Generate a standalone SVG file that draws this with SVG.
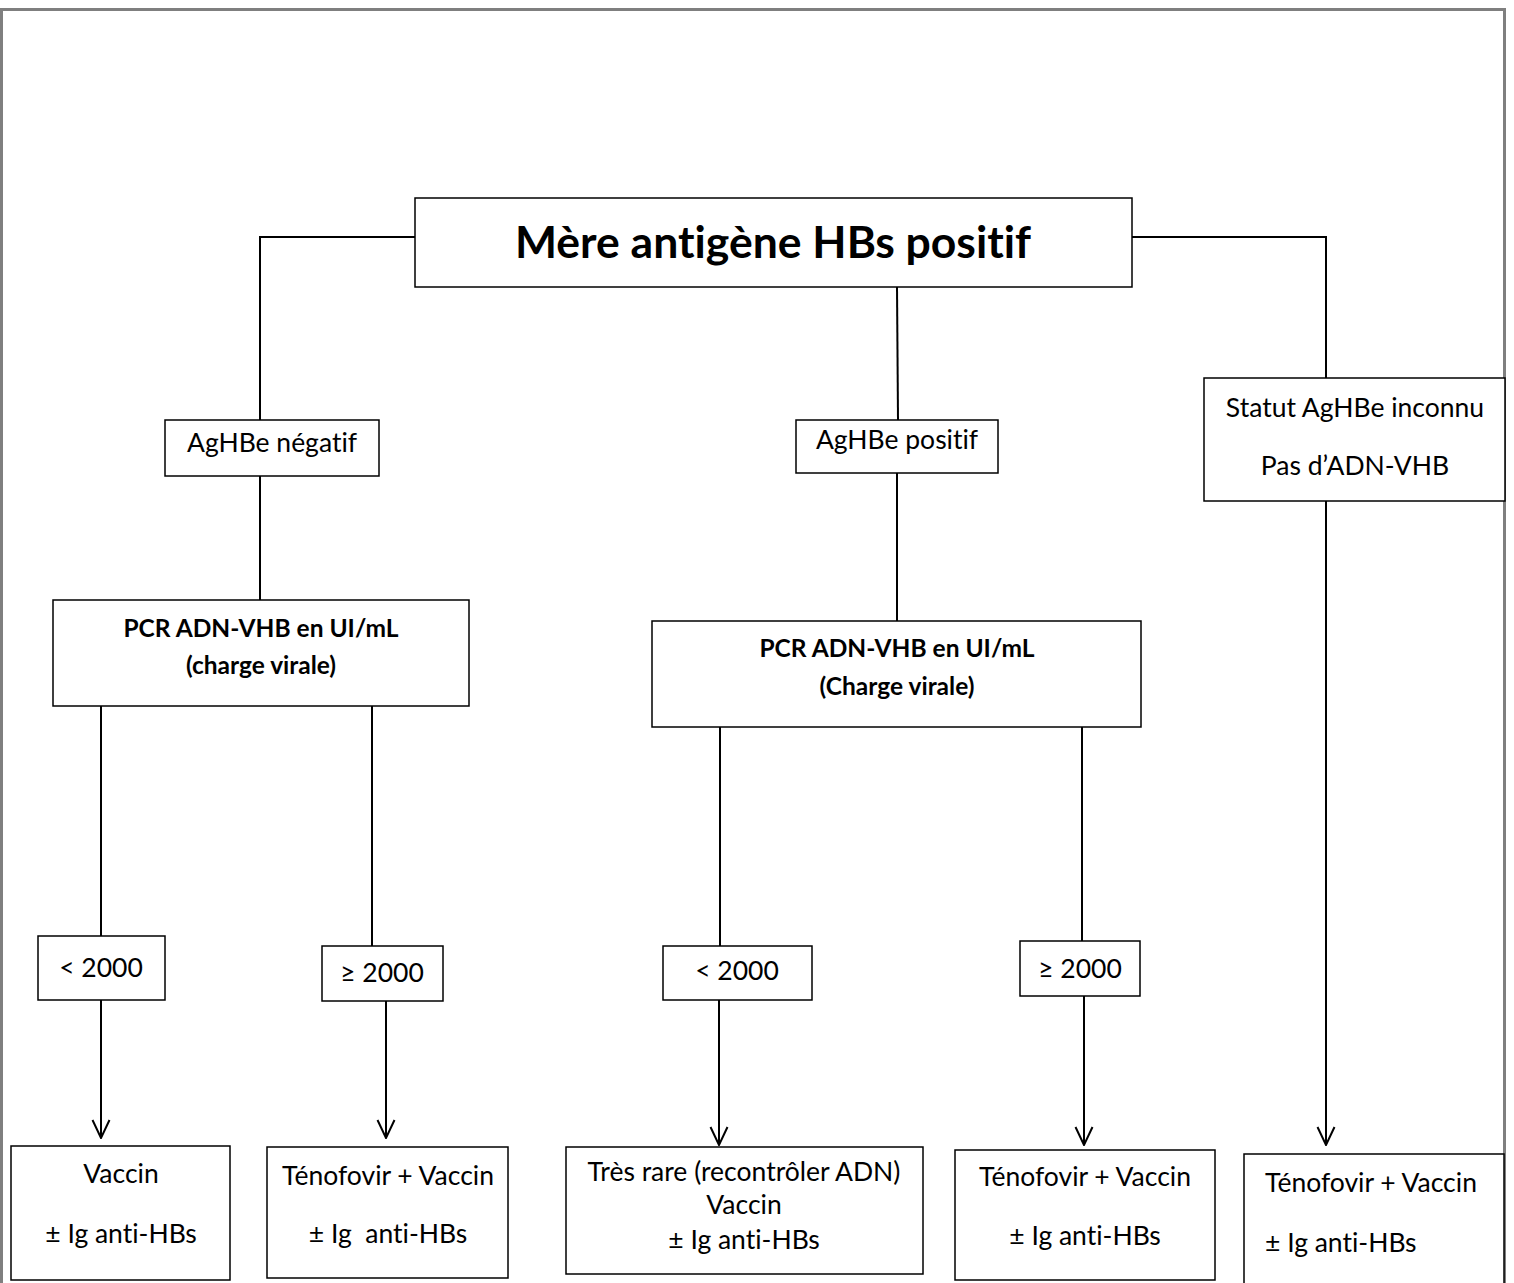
<svg xmlns="http://www.w3.org/2000/svg" width="1514" height="1283" viewBox="0 0 1514 1283">
  <style>
    .box { fill: #ffffff; stroke: #000000; stroke-width: 1.5; }
    .edge { fill: none; stroke: #000000; stroke-width: 2; }
    text { font-family: Lato, "Open Sans", "Liberation Sans", sans-serif; fill: #000000; font-variant-ligatures: none; }
    .t { font-size: 26.5px; text-anchor: middle; }
    .l { font-size: 26.5px; text-anchor: start; }
    .b { font-size: 24.5px; font-weight: bold; text-anchor: middle; }
    .title { font-size: 44.5px; font-weight: bold; text-anchor: middle; }
  </style>
  <defs>
    <!-- open V arrowhead, drawn along +x so orient="auto" points it down the line -->
    <marker id="vee" viewBox="0 0 20 20" refX="19" refY="10" markerWidth="20" markerHeight="20" markerUnits="userSpaceOnUse" orient="auto">
      <path d="M1,1.5 L19,10 L1,18.5" fill="none" stroke="#000000" stroke-width="2"/>
    </marker>
  </defs>

  <!-- page frame -->
  <rect x="0" y="0" width="1514" height="1283" fill="#ffffff"/>
  <rect x="1.5" y="9.5" width="1503" height="1300" fill="none" stroke="#7f7f7f" stroke-width="3"/>

  <!-- connectors -->
  <g id="connectors">
    <polyline class="edge" points="415,237 260,237 260,420"/>
    <polyline class="edge" points="1132,237 1326,237 1326,378"/>
    <line class="edge" x1="897" y1="287" x2="898" y2="420"/>
    <line class="edge" x1="260" y1="476" x2="260" y2="600"/>
    <line class="edge" x1="897" y1="473" x2="897" y2="621"/>
    <line class="edge" x1="101" y1="706" x2="101" y2="936"/>
    <line class="edge" x1="372" y1="703" x2="372" y2="946"/>
    <line class="edge" x1="720" y1="727" x2="720" y2="946"/>
    <line class="edge" x1="1082" y1="727" x2="1082" y2="941"/>
    <line class="edge" x1="101" y1="1000" x2="101" y2="1138" marker-end="url(#vee)"/>
    <line class="edge" x1="386" y1="1001" x2="386" y2="1138" marker-end="url(#vee)"/>
    <line class="edge" x1="719" y1="1000" x2="719" y2="1145" marker-end="url(#vee)"/>
    <line class="edge" x1="1084" y1="996" x2="1084" y2="1145" marker-end="url(#vee)"/>
    <line class="edge" x1="1326" y1="501" x2="1326" y2="1145" marker-end="url(#vee)"/>
  </g>

  <!-- root -->
  <g id="mere">
    <rect class="box" x="415" y="198" width="717" height="89"/>
    <text class="title" x="773" y="258">Mère antigène HBs positif</text>
  </g>

  <!-- second level -->
  <g id="aghbe-negatif">
    <rect class="box" x="165" y="420" width="214" height="56"/>
    <text class="t" x="272" y="452">AgHBe négatif</text>
  </g>
  <g id="aghbe-positif">
    <rect class="box" x="796" y="420" width="202" height="53"/>
    <text class="t" x="897" y="449">AgHBe positif</text>
  </g>
  <g id="statut-inconnu">
    <rect class="box" x="1204" y="378" width="301" height="123"/>
    <text class="t" x="1355" y="417">Statut AgHBe inconnu</text>
    <text class="t" x="1355" y="475">Pas d’ADN-VHB</text>
  </g>

  <!-- viral load tests -->
  <g id="pcr-negatif">
    <rect class="box" x="53" y="600" width="416" height="106"/>
    <text class="b" x="261" y="637">PCR ADN-VHB en UI/mL</text>
    <text class="b" x="261" y="674">(charge virale)</text>
  </g>
  <g id="pcr-positif">
    <rect class="box" x="652" y="621" width="489" height="106"/>
    <text class="b" x="897" y="657">PCR ADN-VHB en UI/mL</text>
    <text class="b" x="897" y="695">(Charge virale)</text>
  </g>

  <!-- thresholds -->
  <g id="neg-lt2000">
    <rect class="box" x="38" y="936" width="127" height="64"/>
    <text class="t" x="101" y="977">&lt; 2000</text>
  </g>
  <g id="neg-ge2000">
    <rect class="box" x="322" y="946" width="121" height="55"/>
    <text class="t" x="382" y="982">≥ 2000</text>
  </g>
  <g id="pos-lt2000">
    <rect class="box" x="663" y="946" width="149" height="54"/>
    <text class="t" x="737" y="980">&lt; 2000</text>
  </g>
  <g id="pos-ge2000">
    <rect class="box" x="1020" y="941" width="120" height="55"/>
    <text class="t" x="1080" y="978">≥ 2000</text>
  </g>

  <!-- outcomes -->
  <g id="out-vaccin">
    <rect class="box" x="11" y="1146" width="219" height="134"/>
    <text class="t" x="121" y="1183">Vaccin</text>
    <text class="t" x="121" y="1243">± Ig anti-HBs</text>
  </g>
  <g id="out-tenofovir-1">
    <rect class="box" x="267" y="1147" width="241" height="131"/>
    <text class="t" x="388" y="1185">Ténofovir + Vaccin</text>
    <text class="t" x="388" y="1243" xml:space="preserve">± Ig  anti-HBs</text>
  </g>
  <g id="out-tres-rare">
    <rect class="box" x="566" y="1147" width="357" height="127"/>
    <text class="t" x="744" y="1181">Très rare (recontrôler ADN)</text>
    <text class="t" x="744" y="1214">Vaccin</text>
    <text class="t" x="744" y="1249">± Ig anti-HBs</text>
  </g>
  <g id="out-tenofovir-2">
    <rect class="box" x="955" y="1150" width="260" height="130"/>
    <text class="t" x="1085" y="1186">Ténofovir + Vaccin</text>
    <text class="t" x="1085" y="1245">± Ig anti-HBs</text>
  </g>
  <g id="out-tenofovir-3">
    <rect class="box" x="1244" y="1154" width="260" height="140"/>
    <text class="l" x="1265" y="1192">Ténofovir + Vaccin</text>
    <text class="l" x="1265" y="1252">± Ig anti-HBs</text>
  </g>
</svg>
